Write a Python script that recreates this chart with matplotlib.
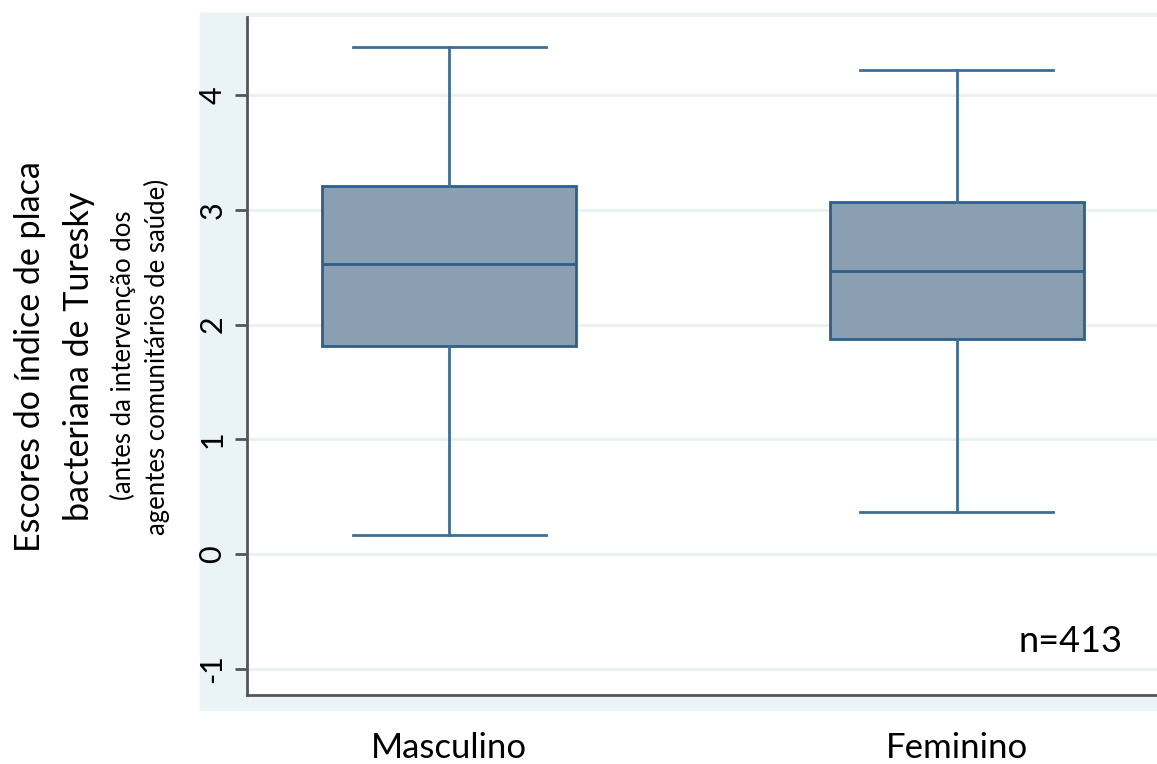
import matplotlib.pyplot as plt
from matplotlib.patches import Rectangle

# box plot summary per group (whisker ends, quartiles, median)
groups = ['Masculino', 'Feminino']
whislo = [0.17, 0.37]
q1 = [1.81, 1.87]
med = [2.53, 2.47]
q3 = [3.21, 3.07]
whishi = [4.42, 4.22]
yticks = [-1, 0, 1, 2, 3, 4]
ytick_labels = ['-1', '0', '1', '2', '3', '4']

plt.rcParams['font.family'] = ['Lato', 'DejaVu Sans']

fig = plt.figure(figsize=(11.57, 7.64), dpi=100)

# graph region band behind the axes
fig.patches.append(Rectangle((0.1729, 0.0707), 0.83, 0.912,
                             transform=fig.transFigure, color='#eaf3f5', zorder=-10))

ax = fig.add_axes([0.2135, 0.0903, 0.7865, 0.8874])
ax.set_facecolor('white')

stats = []
for i, g in enumerate(groups):
    stats.append({'label': g, 'whislo': whislo[i], 'q1': q1[i], 'med': med[i],
                  'q3': q3[i], 'whishi': whishi[i], 'fliers': []})

edge = '#2d5f89'
ax.bxp(stats, positions=[1, 2], widths=0.5, patch_artist=True,
       boxprops=dict(facecolor='#8a9fb2', edgecolor=edge, linewidth=2),
       medianprops=dict(color=edge, linewidth=2),
       whiskerprops=dict(color='#3f6e94', linewidth=2),
       capprops=dict(color='#3f6e94', linewidth=2), capwidths=0.38,
       showfliers=False, zorder=3)

ax.set_xlim(0.602, 2.394)
ax.set_ylim(-1.228, 4.68)
ax.tick_params(axis='y', length=9, width=2, color='#555555', pad=6)
ax.set_yticks(yticks)
ax.set_yticklabels(ytick_labels, fontsize=22, rotation=90, va='center')
ax.grid(axis='y', color='#e8f1f5', linewidth=2, zorder=0)
ax.set_axisbelow(True)
ax.tick_params(axis='x', length=0, pad=0)
ax.set_xticks([1, 2])
ax.set_xticklabels(groups, fontsize=25)
for lbl in ax.get_xticklabels():
    lbl.set_y(-0.078)
    lbl.set_va('center')

for s in ['top', 'right']:
    ax.spines[s].set_visible(False)
for s in ['left', 'bottom']:
    ax.spines[s].set_color('#555555')
    ax.spines[s].set_linewidth(2)

ax.text(2.223, -0.76, 'n=413', fontsize=26, ha='center', va='center')

# two-level y axis title
fig.text(0.026, 0.533, 'Escores do índice de placa', rotation=90,
         fontsize=24.5, ha='center', va='center')
fig.text(0.068, 0.533, 'bacteriana de Turesky', rotation=90,
         fontsize=24.5, ha='center', va='center')
fig.text(0.106, 0.535, '(antes da intervenção dos', rotation=90,
         fontsize=18.5, ha='center', va='center')
fig.text(0.136, 0.533, 'agentes comunitários de saúde)', rotation=90,
         fontsize=18.5, ha='center', va='center')

fig.savefig('out.png', dpi=100)
